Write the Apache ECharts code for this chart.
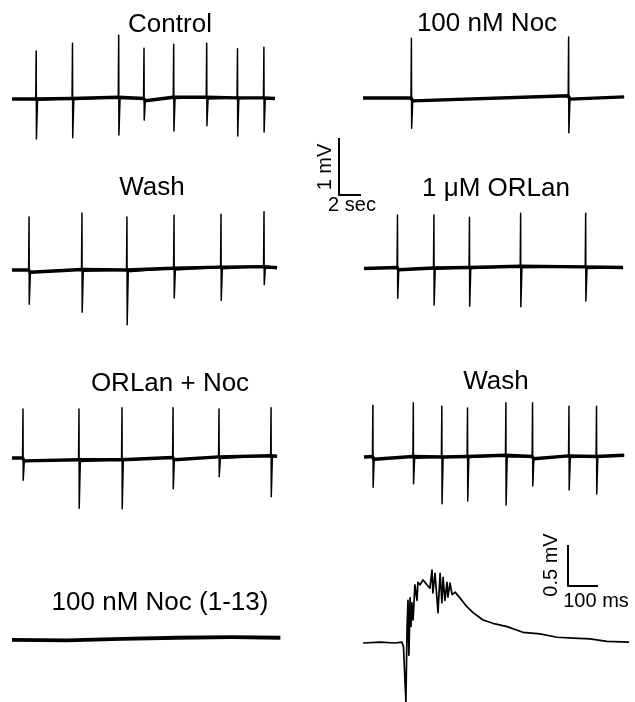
<!DOCTYPE html>
<html><head><meta charset="utf-8">
<script src="https://cdn.jsdelivr.net/npm/echarts@6/dist/echarts.min.js"></script>
<style>html,body{margin:0;padding:0;background:#fff}#c{width:635px;height:702px}</style>
</head><body><div id="c"></div>
<script>
// ---- Data (time in s, voltage in mV relative to baseline) ----
const controlT    = [2.2, 5.5, 9.7, 12.0, 14.7, 17.7, 20.5, 22.9];
const controlUp   = [0.84, 0.98, 1.12, 0.89, 0.96, 0.98, 0.88, 0.91];
const controlDown = [-0.70, -0.68, -0.63, -0.37, -0.56, -0.47, -0.65, -0.58];
const controlBase = [0.0, 0.0, -0.02, 0.01, -0.01, 0.03, 0.01, 0.01, -0.03, 0.03, 0.01, 0.03, 0.0, 0.02, 0.01, 0.02, 0.0, 0.01];
const controlEnd  = 23.9;

const wash1T    = [1.55, 6.36, 10.45, 14.73, 19.0, 22.91];
const wash1Up   = [0.93, 1.0, 0.93, 0.96, 0.98, 1.02];
const wash1Down = [-0.60, -0.74, -0.96, -0.49, -0.53, -0.26];
const wash1Base = [0, 0, -0.04, 0.01, -0.02, 0, -0.03, 0.03, 0, 0.05, 0.02, 0.06, 0.03, 0.04];
const wash1End  = 24.1;

const nocT    = [4.45, 18.9];
const nocUp   = [1.05, 1.07];
const nocDown = [-0.53, -0.61];
const nocBase = [0, 0, -0.05, 0.04, -0.02, 0.02];
const nocEnd  = 24.0;

const orlanT    = [3.09, 6.45, 9.73, 14.45, 20.45];
const orlanUp   = [0.93, 0.93, 0.89, 0.96, 0.96];
const orlanDown = [-0.53, -0.65, -0.67, -0.68, -0.58];
const orlanBase = [-0.01, 0.01, -0.03, 0, -0.02, 0.01, -0.01, 0.03, 0.01, 0.02, -0.01, 0.01];
const orlanEnd  = 23.9;

const orNocT    = [1.0, 6.09, 10.0, 14.64, 18.82, 23.55];
const orNocUp   = [0.86, 0.86, 0.88, 0.88, 0.86, 0.88];
const orNocDown = [-0.39, -0.88, -0.89, -0.54, -0.33, -0.68];
const orNocBase = [0, 0, -0.05, -0.03, -0.06, -0.03, -0.04, 0.01, -0.03, 0.02, -0.01, 0.04, 0.02, 0.03];
const orNocEnd  = 24.1;

const wash2T    = [0.82, 4.55, 7.18, 9.55, 13.09, 15.55, 18.91, 21.45];
const wash2Up   = [0.91, 0.95, 0.89, 0.86, 0.95, 0.95, 0.89, 0.89];
const wash2Down = [-0.53, -0.47, -0.82, -0.77, -0.84, -0.51, -0.58, -0.65];
const wash2Base = [0, 0.01, -0.04, 0.01, -0.02, 0, -0.01, 0.01, -0.01, 0.03, 0, 0.01, -0.03, 0.02, -0.01, 0.01, 0, 0.03];
const wash2End  = 24.0;

const noc113T = [0, 5, 10, 15, 20, 24.4];
const noc113V = [-0.02, -0.03, 0.0, 0.02, 0.03, 0.02];

// expanded single response (ms, mV)
const epspT = [0, 57, 107, 130, 135, 143, 147, 150, 153, 157, 160, 163, 167, 173, 180, 183, 190, 200, 213, 223, 230, 233, 240, 247, 250, 257, 263, 267, 273, 280, 283, 290, 297, 307, 323, 347, 367, 400, 433, 480, 533, 590, 647, 700, 757, 813, 887];
const epspV = [0, 0.01, 0, 0.01, -0.05, -0.72, 0.20, 0.52, -0.15, 0.55, 0.20, 0.49, 0.28, 0.71, 0.52, 0.74, 0.71, 0.77, 0.71, 0.67, 0.89, 0.61, 0.85, 0.52, 0.37, 0.85, 0.49, 0.80, 0.52, 0.74, 0.56, 0.73, 0.59, 0.62, 0.55, 0.44, 0.37, 0.28, 0.24, 0.20, 0.13, 0.11, 0.07, 0.06, 0.05, 0.02, 0.01];

const labels = ['Control', '100 nM Noc', 'Wash', '1 \u03bcM ORLan', 'ORLan + Noc', 'Wash', '100 nM Noc (1-13)'];
const scaleSlow = {sec: 2, mV: 1};
const scaleFast = {ms: 100, mV: 0.5};

// ---- Build ----
function baseline(spT, vals, end) {
  const pts = [[0, vals[0]]];
  spT.forEach((t, i) => { pts.push([t - 0.04, vals[1 + 2 * i]]); pts.push([t + 0.12, vals[2 + 2 * i]]); });
  pts.push([end, vals[vals.length - 1]]);
  return pts;
}
function trace(base, spT, up, down) {
  const pts = base.slice();
  spT.forEach((t, i) => { pts.push([t, up[i]]); pts.push([t + 0.02, down[i]]); });
  pts.sort((a, b) => a[0] - b[0]);
  return pts;
}

const panels = [
  {T: controlT, up: controlUp, down: controlDown, base: controlBase, end: controlEnd, left: 12, ref: 99},
  {T: nocT, up: nocUp, down: nocDown, base: nocBase, end: nocEnd, left: 363, ref: 98},
  {T: wash1T, up: wash1Up, down: wash1Down, base: wash1Base, end: wash1End, left: 12, ref: 270},
  {T: orlanT, up: orlanUp, down: orlanDown, base: orlanBase, end: orlanEnd, left: 364, ref: 268},
  {T: orNocT, up: orNocUp, down: orNocDown, base: orNocBase, end: orNocEnd, left: 12, ref: 458},
  {T: wash2T, up: wash2Up, down: wash2Down, base: wash2Base, end: wash2End, left: 364, ref: 457}
];
const PXS = 11, PXMV = 57;

const grids = [], xAxes = [], yAxes = [], series = [];
function addGrid(left, top, width, height, xmin, xmax, ymin, ymax) {
  grids.push({left: left, top: top, width: width, height: height});
  const i = grids.length - 1;
  xAxes.push({type: 'value', gridIndex: i, min: xmin, max: xmax, show: false});
  yAxes.push({type: 'value', gridIndex: i, min: ymin, max: ymax, show: false});
  return i;
}
function addLine(i, data, w) {
  series.push({type: 'line', xAxisIndex: i, yAxisIndex: i, data: data, symbol: 'none', clip: false,
    lineStyle: {color: '#000', width: w, join: 'round'}, silent: true});
}

panels.forEach(p => {
  const i = addGrid(p.left, p.ref - 1.2 * PXMV, 25 * PXS, 2.4 * PXMV, 0, 25, -1.2, 1.2);
  const b = baseline(p.T, p.base, p.end);
  addLine(i, b, 3.4);
  addLine(i, trace(b, p.T, p.up, p.down), 1.5);
});
// flat trace
{
  const i = addGrid(12, 644 - 1.2 * PXMV, 25 * PXS, 2.4 * PXMV, 0, 25, -1.2, 1.2);
  addLine(i, noc113T.map((t, k) => [t, noc113V[k]]), 3.8);
}
// expanded response
{
  const i = addGrid(363, 561, 270, 141, 0, 900, -0.72, 1.0);
  addLine(i, epspT.map((t, k) => [t, epspV[k]]), 1.7);
}
// scale bars
{
  const i = addGrid(339, 138, scaleSlow.sec * PXS, scaleSlow.mV * PXMV, 0, scaleSlow.sec, 0, scaleSlow.mV);
  addLine(i, [[0, scaleSlow.mV], [0, 0], [scaleSlow.sec, 0]], 2);
  const j = addGrid(568, 545, 30, 41, 0, scaleFast.ms, 0, scaleFast.mV);
  addLine(j, [[0, scaleFast.mV], [0, 0], [scaleFast.ms, 0]], 2);
}

const F = '"Liberation Sans", Arial, sans-serif';
function txt(s, x, y, size, rot) {
  return {type: 'text', x: x, y: y, rotation: rot || 0,
    style: {text: s, fill: '#000', font: size + 'px ' + F, textAlign: 'center', textVerticalAlign: 'middle'}};
}
const labelPos = [[170, 25], [487, 24], [152, 188], [496, 189], [170, 384], [496, 382], [160, 603]];
const graphics = labels.map((s, k) => txt(s, labelPos[k][0], labelPos[k][1], 26));
graphics.push(txt(scaleSlow.mV + ' mV', 325, 167, 20, Math.PI / 2));
graphics.push(txt(scaleSlow.sec + ' sec', 352, 205, 20));
graphics.push(txt(scaleFast.mV + ' mV', 551, 565, 20, Math.PI / 2));
graphics.push(txt(scaleFast.ms + ' ms', 596, 601, 20));

const chart = echarts.init(document.getElementById('c'), null, {renderer: 'canvas'});
chart.setOption({
  animation: false,
  backgroundColor: '#fff',
  grid: grids, xAxis: xAxes, yAxis: yAxes, series: series,
  graphic: graphics
});
</script></body></html>
